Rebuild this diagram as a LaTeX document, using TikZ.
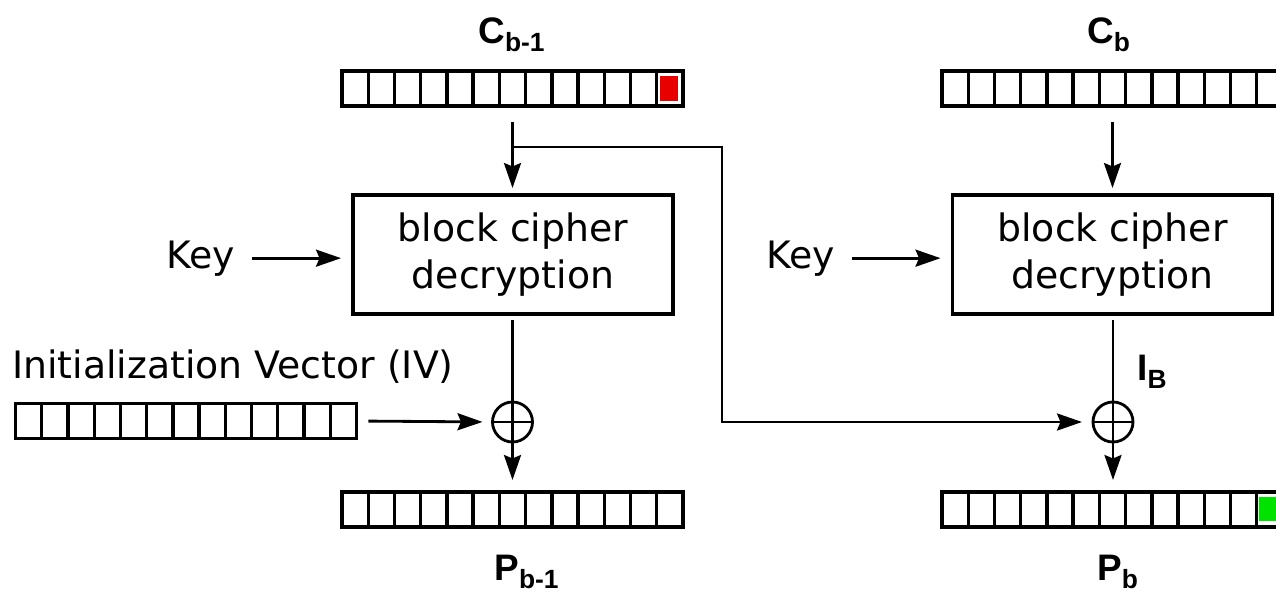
\documentclass[tikz,border=0pt]{standalone}
\usepackage{fontspec}
\setmainfont{DejaVu Sans}
\newfontfamily\lblfont{Liberation Sans}
\usepackage{tikz}
\usetikzlibrary{calc,arrows.meta}

\definecolor{cellred}{RGB}{232,0,0}
\definecolor{cellgreen}{RGB}{0,226,0}

\newcommand{\blocklbl}[2]{{\lblfont\bfseries\fontsize{21}{25}\selectfont #1\raisebox{-0.23em}{\fontsize{15}{15}\selectfont #2}}}

\tikzset{
  cellrow/.style={draw, line width=1.9pt, minimum width=6.82cm, minimum height=0.7cm, inner sep=0pt, outer sep=0pt},
  cipher/.style={draw, line width=1.8pt, minimum width=6.4cm, minimum height=2.38cm, align=center, outer sep=0pt,
    font=\fontsize{21.5}{27.2}\selectfont},
  xor/.style={draw, circle, line width=1.6pt, minimum size=0.8cm, inner sep=0pt, outer sep=0pt,
    path picture={\draw[line width=1.6pt] (path picture bounding box.north) -- (path picture bounding box.south)
      (path picture bounding box.west) -- (path picture bounding box.east);}},
  txt/.style={inner sep=0pt, font=\fontsize{21.5}{27.2}\selectfont},
  wire/.style={line width=1.6pt},
  arr/.style={wire, -{Stealth[length=0.5cm, width=0.34cm, inset=0.07cm]}},
}

\begin{document}
\begin{tikzpicture}[x=0.02cm, y=-0.02cm]
\useasboundingbox (0,0) rectangle (1276,592);
\clip (0,0) rectangle (1276,592);

% left column
\node[cellrow] (cprev) at (512.5,88.5) {};
\node[cellrow] (iv) at (186,421) {};
\node[cellrow] (pprev) at (512.5,509.5) {};
\node[cipher] (decL) at (513,254.5) {block cipher\\decryption};
\node[xor] (xorL) at (512.5,422) {};
\node[txt, anchor=base west] (keyL) at (166,268) {Key};
\node[txt, anchor=base west] (ivlbl) at (12,378) {Initialization Vector (IV)};
\node[anchor=base, inner sep=0pt] (lcprev) at (511.5,43) {\blocklbl{C}{b-1}};
\node[anchor=base, inner sep=0pt] (lpprev) at (526.5,580) {\blocklbl{P}{b-1}};

% right column
\node[cellrow] (ccur) at (1112.5,88.5) {};
\node[cellrow] (pcur) at (1112.5,509.5) {};
\node[cipher] (decR) at (1112.5,254.5) {block cipher\\decryption};
\node[xor] (xorR) at (1113,422) {};
\node[txt, anchor=base west] (keyR) at (766,268) {Key};
\node[anchor=base, inner sep=0pt] (lccur) at (1108.5,43) {\blocklbl{C}{b}};
\node[anchor=base, inner sep=0pt] (lpcur) at (1117.5,580) {\blocklbl{P}{b}};
\node[anchor=base west, inner sep=0pt] (lib) at (1137,380) {\blocklbl{I}{B}};

% cells
\foreach \a in {cprev,ccur,iv,pprev,pcur}
  \foreach \i in {1,...,12}
    \draw[line width=1.9pt] ($(\a.north west)!{\i/13}!(\a.north east)$) -- ($(\a.south west)!{\i/13}!(\a.south east)$);
\fill[cellred] (660,76) rectangle (678,101);
\fill[cellgreen] (1259,497) rectangle (1280,521);

% connectors
\coordinate (split) at (512.5,147);
\coordinate (bend) at (722,147);
\draw[arr, shorten <=0.32cm, shorten >=0.14cm] (cprev.south) -- (cprev.south |- decL.north);
\draw[arr, shorten >=0.22cm] (split) -- (bend) |- (xorR.west);
\draw[arr, shorten <=0.34cm, shorten >=0.24cm] (keyL.east) -- (keyL.east -| decL.west);
\draw[wire, shorten <=0.12cm] (xorL.north |- decL.south) -- (xorL.north);
\draw[arr, shorten <=0.24cm, shorten >=0.2cm] (iv.east) -- (xorL.west);
\draw[arr, shorten >=0.24cm] (xorL.south) -- (xorL.south |- pprev.north);

\draw[arr, shorten <=0.32cm, shorten >=0.14cm] (ccur.south) -- (ccur.south |- decR.north);
\draw[arr, shorten <=0.34cm, shorten >=0.24cm] (keyR.east) -- (keyR.east -| decR.west);
\draw[wire, shorten <=0.12cm] (xorR.north |- decR.south) -- (xorR.north);
\draw[arr, shorten >=0.24cm] (xorR.south) -- (xorR.south |- pcur.north);
\end{tikzpicture}
\end{document}
